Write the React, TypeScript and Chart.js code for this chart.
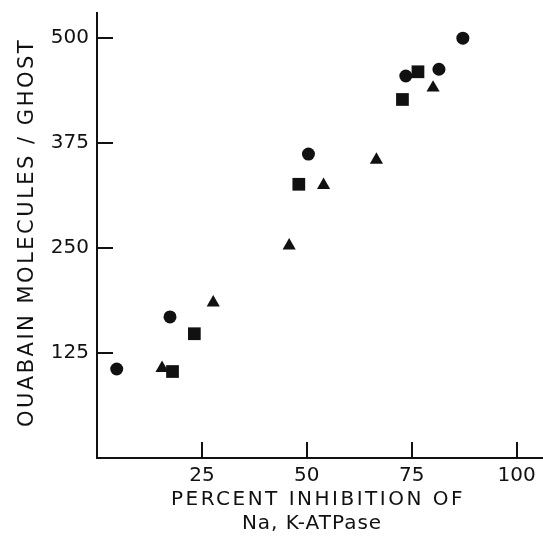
import { useEffect, useRef } from 'react';
import { Chart, registerables } from 'chart.js';

Chart.register(...registerables);

// Three marker groups: percent inhibition (x) vs ouabain molecules per ghost (y)
const circleX = [4.7, 17.4, 50.4, 73.6, 81.5, 87.2];
const circleY = [106, 168, 362, 455, 463, 500];
const squareX = [18.0, 23.2, 48.1, 72.8, 76.5];
const squareY = [103, 148, 326, 427, 460];
const triangleX = [15.5, 27.7, 45.8, 54.0, 66.6, 80.1];
const triangleY = [107, 185, 253, 325, 355, 441];

const xTicks = [25, 50, 75, 100];
const yTicks = [125, 250, 375, 500];

const xTitle = ['PERCENT INHIBITION OF', 'Na, K-ATPase'];
const yTitle = 'OUABAIN MOLECULES / GHOST';

const INK = '#111';
const FONT = '"DejaVu Sans", sans-serif';

const toPoints = (xs: number[], ys: number[]) => xs.map((x, i) => ({ x, y: ys[i] }));

// Keep the plot area where the layout padding puts it
const noScalePadding = (s: any) => {
  s.paddingTop = 0;
  s.paddingBottom = 0;
  s.paddingLeft = 0;
  s.paddingRight = 0;
};

// Inward tick marks and the axis titles
const axisDecor = {
  id: 'axisDecor',
  afterDraw(chart: any) {
    const { ctx, chartArea, scales } = chart;
    ctx.save();
    ctx.strokeStyle = INK;
    ctx.lineWidth = 2;
    ctx.beginPath();
    xTicks.forEach((v) => {
      const px = Math.round(scales.x.getPixelForValue(v));
      ctx.moveTo(px, chartArea.bottom);
      ctx.lineTo(px, chartArea.bottom - 16);
    });
    yTicks.forEach((v) => {
      const py = Math.round(scales.y.getPixelForValue(v));
      ctx.moveTo(chartArea.left, py);
      ctx.lineTo(chartArea.left + 16, py);
    });
    ctx.stroke();

    ctx.fillStyle = INK;
    ctx.textAlign = 'center';
    ctx.textBaseline = 'alphabetic';
    const cx = (chartArea.left + chartArea.right) / 2;
    ctx.font = `20px ${FONT}`;
    ctx.letterSpacing = '2.5px';
    ctx.fillText(xTitle[0], cx - 2, chartArea.bottom + 47);
    ctx.letterSpacing = '1px';
    ctx.fillText(xTitle[1], cx - 8, chartArea.bottom + 71);

    ctx.translate(33, (chartArea.top + chartArea.bottom) / 2 - 3);
    ctx.rotate(-Math.PI / 2);
    ctx.font = `21px ${FONT}`;
    ctx.letterSpacing = '2.5px';
    ctx.fillText(yTitle, 0, 0);
    ctx.restore();
  },
};

export default function App() {
  const canvasRef = useRef<HTMLCanvasElement | null>(null);

  useEffect(() => {
    document.body.style.margin = '0';
    const canvas = canvasRef.current;
    if (!canvas) return;
    const marker = { backgroundColor: INK, borderColor: INK, borderWidth: 0 };
    const chart = new Chart(canvas, {
      type: 'scatter',
      data: {
        datasets: [
          { label: 'circle', data: toPoints(circleX, circleY), pointStyle: 'circle', pointRadius: 6.5, ...marker },
          { label: 'square', data: toPoints(squareX, squareY), pointStyle: 'rect', pointRadius: 9, ...marker },
          { label: 'triangle', data: toPoints(triangleX, triangleY), pointStyle: 'triangle', pointRadius: 7.6, ...marker },
        ],
      },
      options: {
        animation: false,
        responsive: false,
        devicePixelRatio: 1,
        layout: { autoPadding: false, padding: { top: 13, right: 0, left: 0, bottom: 0 } },
        plugins: { legend: { display: false }, tooltip: { enabled: false } },
        scales: {
          x: {
            type: 'linear',
            min: 0,
            max: 106.3,
            afterBuildTicks: (s: any) => { s.ticks = xTicks.map((value) => ({ value })); },
            afterFit: (s: any) => { s.height = 90; noScalePadding(s); },
            grid: { display: false, drawTicks: false },
            border: { display: true, color: INK, width: 2 },
            ticks: { color: INK, font: { family: FONT, size: 20 }, padding: 6, maxRotation: 0 },
          },
          y: {
            type: 'linear',
            min: 0,
            max: 530,
            afterBuildTicks: (s: any) => { s.ticks = yTicks.map((value) => ({ value })); },
            afterFit: (s: any) => { s.width = 97; noScalePadding(s); },
            grid: { display: false, drawTicks: false },
            border: { display: true, color: INK, width: 2 },
            ticks: { color: INK, font: { family: FONT, size: 20 }, padding: 8 },
          },
        },
      },
      plugins: [axisDecor],
    });
    return () => chart.destroy();
  }, []);

  return (
    <canvas
      ref={canvasRef}
      width={543}
      height={548}
      style={{ position: 'absolute', left: 0, top: 0, display: 'block' }}
    />
  );
}
